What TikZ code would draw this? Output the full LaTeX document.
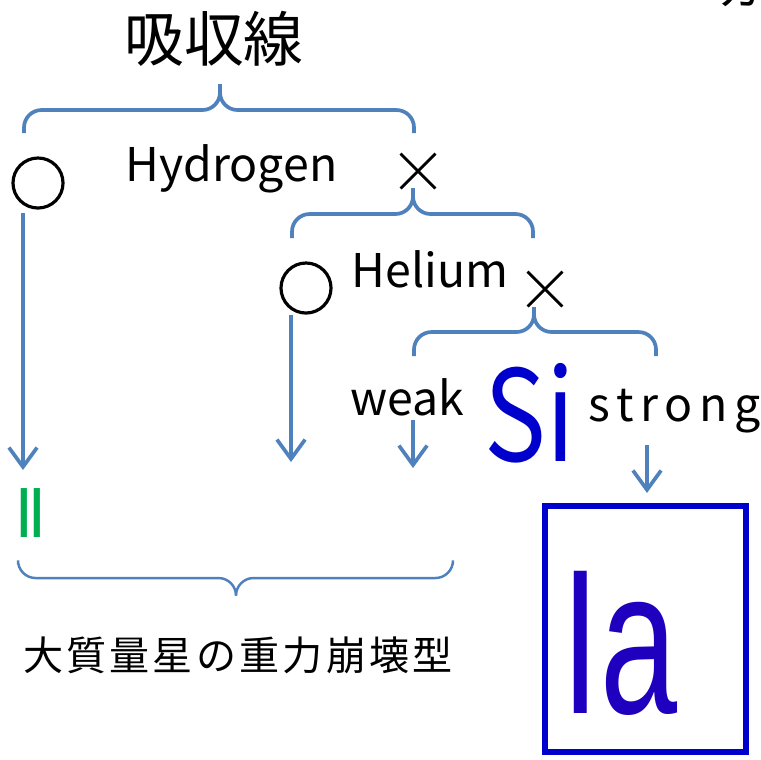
\documentclass[tikz,border=0pt]{standalone}
\usepackage{fontspec}
\usepackage{graphicx}
\setmainfont{Noto Sans CJK JP}
\newfontfamily\jpwide[LetterSpace=8]{Noto Sans CJK JP}
\newfontfamily\arialfont{Liberation Sans}
\usetikzlibrary{arrows.meta,positioning,shapes.misc}
\definecolor{bracblue}{HTML}{4F81BD}
\definecolor{siblue}{HTML}{0000CC}
\definecolor{iablue}{HTML}{1E00BE}
\definecolor{typegreen}{HTML}{00B050}

\begin{document}
\begin{tikzpicture}[x=0.01cm, y=-0.01cm,
  yes/.style={circle, draw, line width=0.9pt, minimum size=0.5cm, inner sep=0pt},
  no/.style={cross out, draw, line width=0.8pt, minimum size=0.32cm, inner sep=0pt},
  word/.style={font=\fontsize{13.2}{13.2}\selectfont, inner sep=0pt, anchor=base west},
  arr/.style={-{Straight Barb[length=5.5pt, width=8pt]}, line width=1.05pt, bracblue},
  brc/.style={line width=1.05pt, bracblue, rounded corners=5pt}
]
\useasboundingbox (0,0) rectangle (761,759);
\clip (0,0) rectangle (761,759);

% title and top-right leftover glyph
\node[font=\fontsize{17}{17}\selectfont, inner sep=0pt] (absorb) at (214,39) {吸収線};
\node[font=\fontsize{13}{13}\selectfont, inner sep=0pt, anchor=base] (cut) at (740,5) {カ};

% yes / no marks and labels
\node[yes] (hyes) at (38,183) {};
\node[word] (hydro) at (125,181) {Hydrogen};
\node[no] (hno) at (418,171) {};
\node[yes] (heyes) at (306,288) {};
\node[word] (helium) at (351,287) {Helium};
\node[no] (heno) at (545,289) {};
\node[word] (weak) at (350,415) {weak};
\node[font=\fontsize{36}{36}\selectfont, text=siblue, inner sep=0pt, anchor=base west] (si) at (484,461) {\scalebox{0.82}[1]{Si}};
\node[word] (strong) at (588,421) {s\kern1.8pt t\kern1.8pt r\kern1.8pt o\kern1.8pt n\kern1.8pt g};

% braces
\foreach \xl/\xr/\xm/\yh/\ye/\yt in {24/414/220/110/133/84, 292/533/413/214/238/188, 414/656/534/332/356/307}{
  \draw[brc] (\xl,\ye) -- (\xl,\yh) -- (\xm,\yh) -- (\xm,\yt);
  \draw[brc] (\xr,\ye) -- (\xr,\yh) -- (\xm,\yh) -- (\xm,\yt);
}
\draw[brc, line width=0.7pt] (18,564) -- (18,578) -- (236,578) -- (236,593);
\draw[brc, line width=0.7pt] (453,564) -- (453,578) -- (236,578) -- (236,593);

% results
\node[font=\fontsize{19}{19}\selectfont, text=typegreen, inner sep=0pt, anchor=base west] (two) at (14,537) {I\kern-0.1em I};
\node[draw=siblue, line width=1.7pt, minimum width=2.0cm, minimum height=2.46cm, inner sep=0pt] (ia) at (645.5,629) {};
\node[font=\fontsize{58.8}{58.8}\selectfont\arialfont, text=iablue, inner sep=0pt, anchor=base west] (iatext) at (561,713) {\scalebox{0.67}[1]{Ia}};
\node[font=\jpwide\fontsize{11.4}{11.4}\selectfont, inner sep=0pt] (collapse) at (238,655) {大質量星の重力崩壊型};

% arrows
\coordinate (h0) at (23,213);
\coordinate (h1) at (23,470);
\coordinate (he0) at (291,315);
\coordinate (he1) at (291,462);
\coordinate (w0) at (413,420);
\coordinate (w1) at (413,468);
\coordinate (s0) at (647,445);
\draw[arr] (h0) -- (h1);
\draw[arr] (he0) -- (he1);
\draw[arr] (w0) -- (w1);
\draw[arr, shorten >=0.1cm] (s0) -- (s0 |- ia.north);
\end{tikzpicture}
\end{document}
